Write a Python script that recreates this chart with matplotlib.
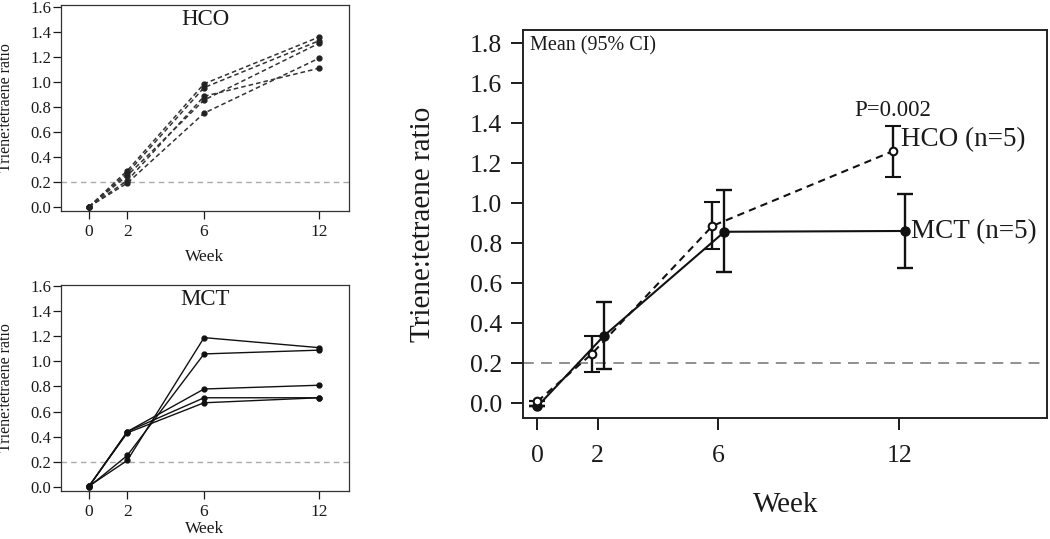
import matplotlib
matplotlib.use("Agg")
import matplotlib.pyplot as plt
import numpy as np

plt.rcParams["font.family"] = ["Liberation Serif", "DejaVu Serif"]

WEEKS = [0, 2, 6, 12]

# individual subjects (left panels)
HCO_SUBJECTS = [
    [0.00, 0.29, 0.985, 1.36],
    [0.00, 0.27, 0.955, 1.33],
    [0.00, 0.25, 0.855, 1.31],
    [0.00, 0.21, 0.885, 1.11],
    [0.00, 0.19, 0.750, 1.19],
]
MCT_SUBJECTS = [
    [0.005, 0.21, 1.19, 1.11],
    [0.000, 0.25, 1.06, 1.09],
    [0.005, 0.44, 0.78, 0.81],
    [0.000, 0.44, 0.71, 0.71],
    [0.005, 0.43, 0.67, 0.71],
]

# group means with 95% CI (right panel)
HCO_MEAN = [0.010, 0.247, 0.887, 1.262]
HCO_LO = [0.010, 0.155, 0.772, 1.130]
HCO_HI = [0.010, 0.338, 1.007, 1.388]
MCT_MEAN = [-0.015, 0.337, 0.858, 0.862]
MCT_LO = [-0.015, 0.170, 0.655, 0.675]
MCT_HI = [-0.015, 0.507, 1.067, 1.045]

THRESHOLD = 0.2
DODGE = 0.2
INK = "#1a1a1a"

fig = plt.figure(figsize=(10.5, 5.39), dpi=100)


def small_panel(rect, subjects, title, dashed, ylim, xlab_y):
    ax = fig.add_axes(rect)
    ax.axhline(THRESHOLD, color="#aaaaaa", lw=1.0, ls=(0, (4, 3)), zorder=1)
    for vals in subjects:
        if dashed:
            ax.plot(WEEKS, vals, color="#333333", lw=1.1, ls=(0, (3, 2)),
                    marker="o", ms=3.5, mfc="#222222", mec="#222222", zorder=3)
        else:
            ax.plot(WEEKS, vals, color="#111111", lw=1.0, ls="-",
                    marker="o", ms=3.5, mfc="#111111", mec="#111111", zorder=3)
    ax.set_xlim(-1.46, 13.56)
    ax.set_ylim(*ylim)
    ax.set_xticks(WEEKS)
    yt = np.arange(0, 1.61, 0.2)
    ax.set_yticks(yt)
    ax.set_yticklabels([f"{v:.1f}" for v in yt])
    ax.tick_params(axis="y", length=5.5, width=0.9, pad=1.5, labelsize=12,
                   colors=INK)
    ax.tick_params(axis="x", length=5.5, width=0.9, pad=4, labelsize=12.5,
                   colors=INK)
    for sp in ax.spines.values():
        sp.set_linewidth(0.9)
        sp.set_color("#333333")
    ax.set_xlabel("Week", fontsize=12.5, color=INK)
    ax.xaxis.set_label_coords(0.5, xlab_y)
    ax.set_ylabel("Triene:tetraene ratio", fontsize=11.5, color=INK)
    ax.yaxis.set_label_coords(-0.162, 0.5)
    ax.text(0.5, 0.928, title, transform=ax.transAxes, ha="center",
            va="center", fontsize=16.5, color=INK)
    return ax


small_panel([0.0581, 0.609, 0.2743, 0.3816], HCO_SUBJECTS, "HCO", True,
            (-0.032, 1.616), -0.186)
small_panel([0.0581, 0.0896, 0.2743, 0.3816], MCT_SUBJECTS, "MCT", False,
            (-0.032, 1.61), -0.148)

# right panel: means with 95% CI
ax = fig.add_axes([0.4984, 0.225, 0.4988, 0.7193])
ax.axhline(THRESHOLD, color="#888888", lw=1.3, ls=(0, (6, 4)), zorder=1)

w = np.array(WEEKS, dtype=float)
off = np.where(w > 0, DODGE, 0.0)
hx = w - off
mx = w + off

hm, hl, hh = np.array(HCO_MEAN), np.array(HCO_LO), np.array(HCO_HI)
mm, ml, mh = np.array(MCT_MEAN), np.array(MCT_LO), np.array(MCT_HI)

ax.errorbar(mx, mm, yerr=[mm - ml, mh - mm], color="#111111", lw=1.5,
            elinewidth=1.7, capsize=6, capthick=1.7, marker="o", ms=6.5,
            mfc="#111111", mec="#111111", zorder=3)
ax.errorbar(hx, hm, yerr=[hm - hl, hh - hm], color="#111111", lw=1.5,
            ls=(0, (3.5, 2.5)), elinewidth=1.7, capsize=6, capthick=1.7,
            marker="o", ms=5.5, mfc="white", mec="#111111", mew=1.5, zorder=4)

ax.set_xlim(-0.47, 16.9)
ax.set_ylim(-0.072, 1.867)
ax.set_xticks(WEEKS)
yt = np.arange(0, 1.81, 0.2)
ax.set_yticks(yt)
ax.set_yticklabels([f"{v:.1f}" for v in yt])
ax.tick_params(axis="y", length=8.5, width=1.4, pad=7, labelsize=18.5,
               colors=INK)
ax.tick_params(axis="x", length=8.5, width=1.4, pad=11, labelsize=18.5,
               colors=INK)
for sp in ax.spines.values():
    sp.set_linewidth(1.4)
    sp.set_color("#222222")
ax.set_xlabel("Week", fontsize=21, color=INK)
ax.xaxis.set_label_coords(0.5, -0.192)
ax.set_ylabel("Triene:tetraene ratio", fontsize=21, color=INK)
ax.yaxis.set_label_coords(-0.167, 0.5)

ax.text(0.012, 0.985, "Mean (95% CI)", transform=ax.transAxes, ha="left",
        va="top", fontsize=14.5, color=INK)
ax.text(hx[-1] - 1.3, 1.465, "P=0.002", ha="left", va="center",
        fontsize=16.5, color=INK)
ax.text(hx[-1] + 0.25, 1.32, "HCO (n=5)", ha="left", va="center",
        fontsize=19.5, color=INK)
ax.text(mx[-1] + 0.2, 0.86, "MCT (n=5)", ha="left", va="center",
        fontsize=19.5, color=INK)

fig.savefig("out.png", dpi=100)
